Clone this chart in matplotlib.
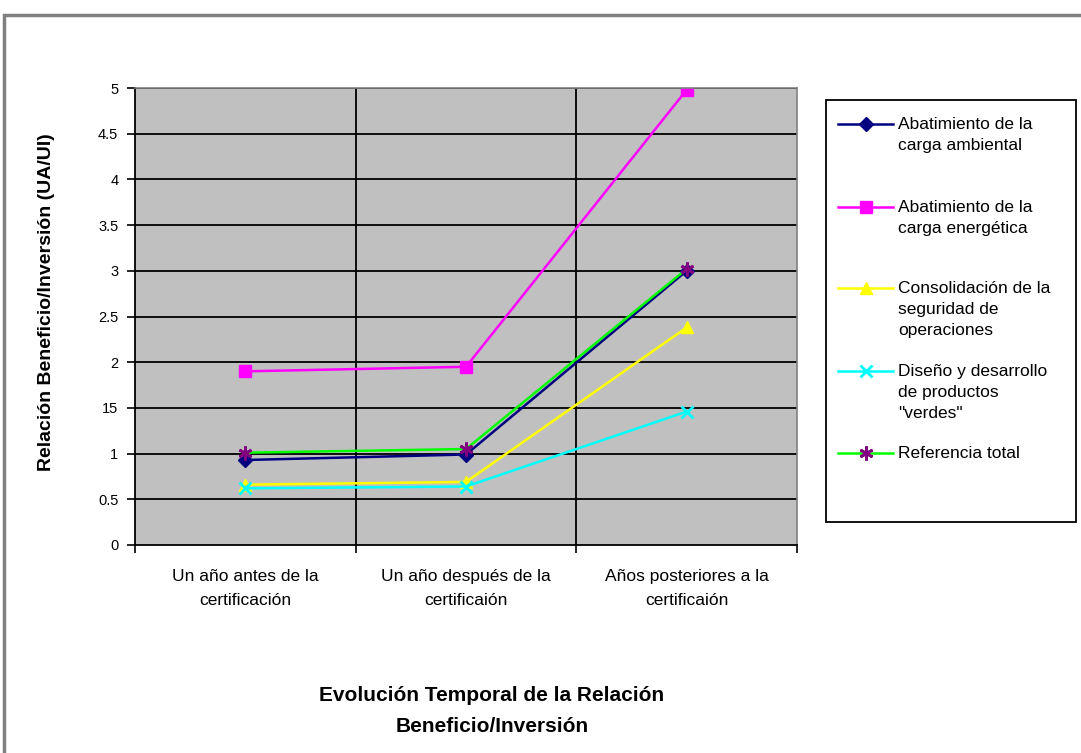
import numpy as np
import matplotlib
matplotlib.use("Agg")
import matplotlib.pyplot as plt
from matplotlib.lines import Line2D
from matplotlib.patches import Rectangle

plt.rcParams['font.family'] = ['Liberation Sans', 'DejaVu Sans']

# periods along the x axis
periodos = ["Un año antes de la\ncertificación",
            "Un año después de la\ncertificaión",
            "Años posteriores a la\ncertificaión"]

# benefit/investment ratio per line of action
ambiental = [0.93, 0.99, 3.00]
energetica = [1.90, 1.95, 4.98]
seguridad = [0.66, 0.69, 2.38]
productos = [0.62, 0.64, 1.46]
referencia = [1.01, 1.05, 3.02]

nombres = ["Abatimiento de la\ncarga ambiental",
           "Abatimiento de la\ncarga energética",
           "Consolidación de la\nseguridad de\noperaciones",
           "Diseño y desarrollo\nde productos\n\"verdes\"",
           "Referencia total"]

yticks = np.arange(0, 5.01, 0.5)
ytick_labels = ["0", "0.5", "1", "15", "2", "2.5", "3", "3.5", "4", "4.5", "5"]

estilos = [
    dict(color="#000080", marker="D", ms=7, mfc="#000080", mec="#000080"),
    dict(color="#FF00FF", marker="s", ms=8, mfc="#FF00FF", mec="#FF00FF"),
    dict(color="#FFFF00", marker="^", ms=9, mfc="#FFFF00", mec="#FFFF00"),
    dict(color="#00FFFF", marker="x", ms=9, mfc="#00FFFF", mec="#00FFFF", mew=2),
    dict(color="#00FF00", marker=(6, 2, 0), ms=10, mfc="#800080", mec="#800080", mew=2),
]
series = [ambiental, energetica, seguridad, productos, referencia]

fig = plt.figure(figsize=(10.81, 7.53), dpi=100)
fig.patch.set_facecolor("white")

# outer frame around the chart
fig.add_artist(Rectangle((4 / 1081, -0.05), 1.2, 1 - 15 / 753 + 0.05,
                         transform=fig.transFigure, fill=False,
                         edgecolor="#808080", linewidth=2.5))

ax = fig.add_axes([135 / 1081, 1 - 545 / 753, 662 / 1081, 457 / 753])
ax.set_facecolor("#C0C0C0")

x = np.arange(len(periodos))
for vals, st in zip(series, estilos):
    ax.plot(x, vals, linewidth=1.8, **st)

ax.set_xlim(-0.5, 2.5)
ax.set_ylim(0, 5)
ax.set_yticks(yticks)
ax.set_yticklabels(ytick_labels, fontsize=10.5)
for yv in yticks[1:]:
    ax.axhline(yv, color="black", linewidth=1.3, zorder=0.5)
for xv in [0.5, 1.5]:
    ax.axvline(xv, color="black", linewidth=1.3, zorder=0.5)

ax.set_xticks([-0.5, 0.5, 1.5, 2.5])
ax.set_xticklabels([])
ax.set_xticks(x, minor=True)
ax.set_xticklabels(periodos, minor=True, fontsize=12.5, linespacing=1.8)
ax.tick_params(axis="x", which="minor", length=0, pad=17)
ax.tick_params(axis="x", which="major", length=6, width=1.2, direction="out")
ax.tick_params(axis="y", length=6, width=1.2, direction="out", pad=6)

for side in ["top", "right"]:
    ax.spines[side].set_color("#808080")
    ax.spines[side].set_linewidth(1.2)
for side in ["left", "bottom"]:
    ax.spines[side].set_color("black")
    ax.spines[side].set_linewidth(1.3)

fig.text(47 / 1081, 1 - 302 / 753, "Relación Beneficio/Inversión (UA/UI)",
         rotation=90, ha="center", va="center", fontsize=14, fontweight="bold")
fig.text(492 / 1081, 1 - 711 / 753, "Evolución Temporal de la Relación\nBeneficio/Inversión",
         ha="center", va="center", fontsize=15, fontweight="bold", linespacing=1.75)

# legend box drawn by hand
fig.add_artist(Rectangle((826 / 1081, 1 - 522 / 753), 250 / 1081, 422 / 753,
                         transform=fig.transFigure, fill=False,
                         edgecolor="black", linewidth=1.3))
filas = [124, 207, 288, 371, 453]
for yy, nombre, st in zip(filas, nombres, estilos):
    yf = 1 - yy / 753
    fig.add_artist(Line2D([838 / 1081, 893 / 1081], [yf, yf], linewidth=1.8,
                          color=st["color"], transform=fig.transFigure))
    mst = {k: v for k, v in st.items() if k != "color"}
    fig.add_artist(Line2D([866 / 1081], [yf], linestyle="none",
                          transform=fig.transFigure, **mst))
    fig.text(898 / 1081, yf + 7 / 753, nombre, ha="left", va="top",
             fontsize=12.5, linespacing=1.5)

fig.savefig("out.png", dpi=100)
